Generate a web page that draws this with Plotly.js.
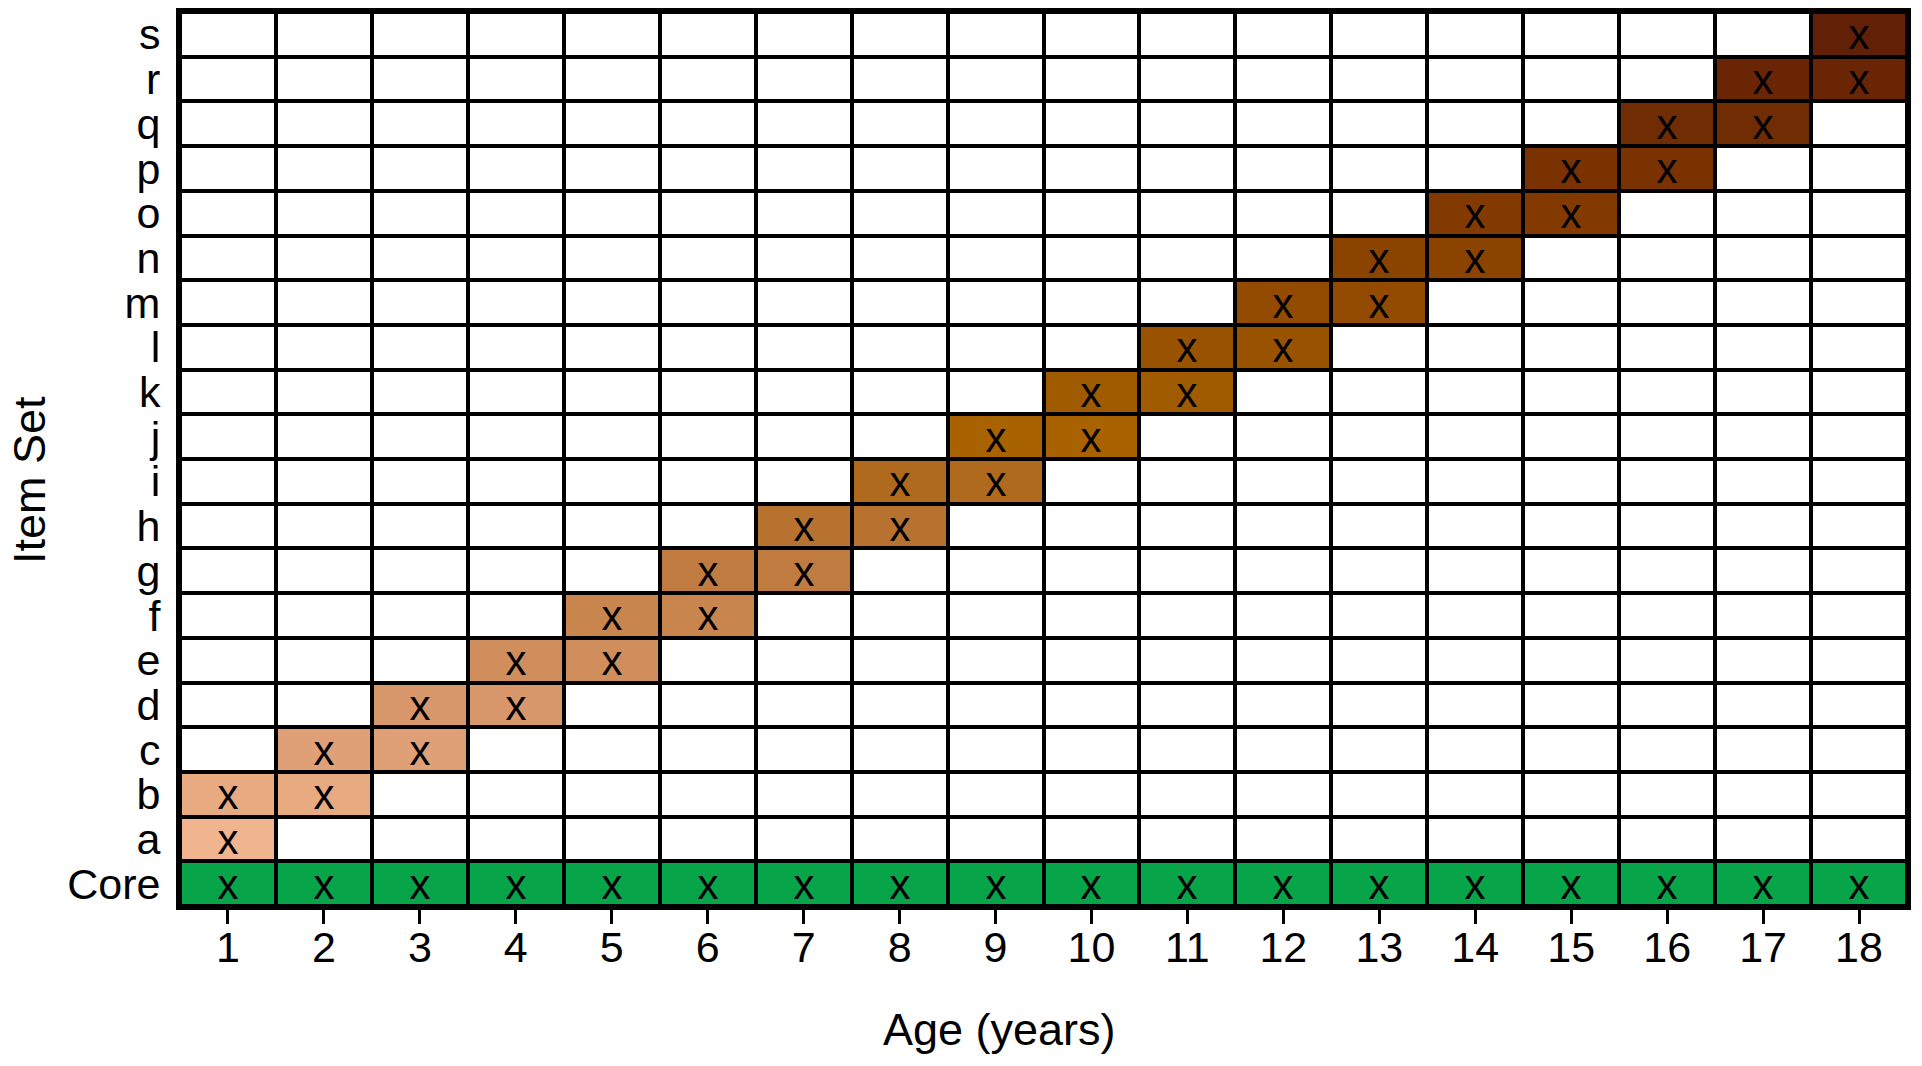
<!DOCTYPE html>
<html>
<head>
<meta charset="utf-8">
<script src="https://cdn.plot.ly/plotly-3.0.1.min.js"></script>
<style>
html,body{margin:0;padding:0;background:#fff;}
#chart{width:1922px;height:1066px;}
</style>
</head>
<body>
<div id="chart"></div>
<script>
// Ages (x axis categories)
const ages = [1,2,3,4,5,6,7,8,9,10,11,12,13,14,15,16,17,18];
// Item sets (y axis categories, bottom to top)
const itemSets = ['Core','a','b','c','d','e','f','g','h','i','j','k','l','m','n','o','p','q','r','s'];
// First and last age at which each item set is administered
const firstAge = [1,1,1,2,3,4,5,6,7,8,9,10,11,12,13,14,15,16,17,18];
const lastAge  = [18,1,2,3,4,5,6,7,8,9,10,11,12,13,14,15,16,17,18,18];
// Fill colour of each item set row
const rowColors = ['#07A449','#F0B48E','#E8AA80','#E0A077','#D8976A','#D08E5C','#C8864E','#C07C40','#B8722F','#AF6A1E',
                   '#A86200','#A05A00','#985200','#924B00','#8A4400','#823A00','#7A3200','#702C02','#6A2504','#622006'];
const emptyColor = '#FFFFFF';
const markText = 'x';

// Build matrices
const z = itemSets.map((s, i) => ages.map(a => (a >= firstAge[i] && a <= lastAge[i]) ? i : -1));
const txt = itemSets.map((s, i) => ages.map(a => (a >= firstAge[i] && a <= lastAge[i]) ? markText : ''));
const allColors = [emptyColor].concat(rowColors);
const n = allColors.length - 1;
const colorscale = allColors.map((c, k) => [k / n, c]);

const font = 'Liberation Sans, Arial, Helvetica, sans-serif';

const trace = {
  type: 'heatmap',
  x: ages,
  y: itemSets,
  z: z,
  zmin: -1,
  zmax: itemSets.length - 1,
  colorscale: colorscale,
  showscale: false,
  xgap: 4,
  ygap: 4,
  text: txt,
  texttemplate: '%{text}',
  textfont: {family: font, size: 42, color: '#000'},
  hoverinfo: 'skip'
};

const layout = {
  width: 1922,
  height: 1066,
  margin: {l: 180, r: 15, t: 12, b: 160, pad: 0},
  paper_bgcolor: '#FFFFFF',
  plot_bgcolor: '#000000',
  font: {family: font, color: '#000'},
  xaxis: {
    tickmode: 'array',
    tickvals: ages,
    ticktext: ages.map(String),
    range: [0.5, 18.5],
    showgrid: false,
    zeroline: false,
    ticks: 'outside',
    ticklen: 14,
    tickwidth: 3,
    tickcolor: '#000',
    ticklabelstandoff: -14,
    tickfont: {family: font, size: 43, color: '#000'},
    showline: true,
    mirror: true,
    linecolor: '#000',
    linewidth: 4,
    fixedrange: true
  },
  yaxis: {
    type: 'category',
    tickmode: 'array',
    tickvals: itemSets,
    ticktext: itemSets,
    showgrid: false,
    zeroline: false,
    ticks: '',
    ticklabelstandoff: 7,
    tickfont: {family: font, size: 43, color: '#000'},
    showline: true,
    mirror: true,
    linecolor: '#000',
    linewidth: 4,
    fixedrange: true
  },
  annotations: [
    {text: 'Age (years)', xref: 'paper', yref: 'paper', x: 0.4748, y: -0.1387,
     xanchor: 'center', yanchor: 'middle', showarrow: false,
     font: {family: font, size: 45, color: '#000'}},
    {text: 'Item Set', xref: 'paper', yref: 'paper', x: -0.0874, y: 0.4765,
     xanchor: 'center', yanchor: 'middle', textangle: -90, showarrow: false,
     font: {family: font, size: 45, color: '#000'}}
  ]
};

Plotly.newPlot('chart', [trace], layout, {displayModeBar: false, staticPlot: true});
</script>
</body>
</html>
